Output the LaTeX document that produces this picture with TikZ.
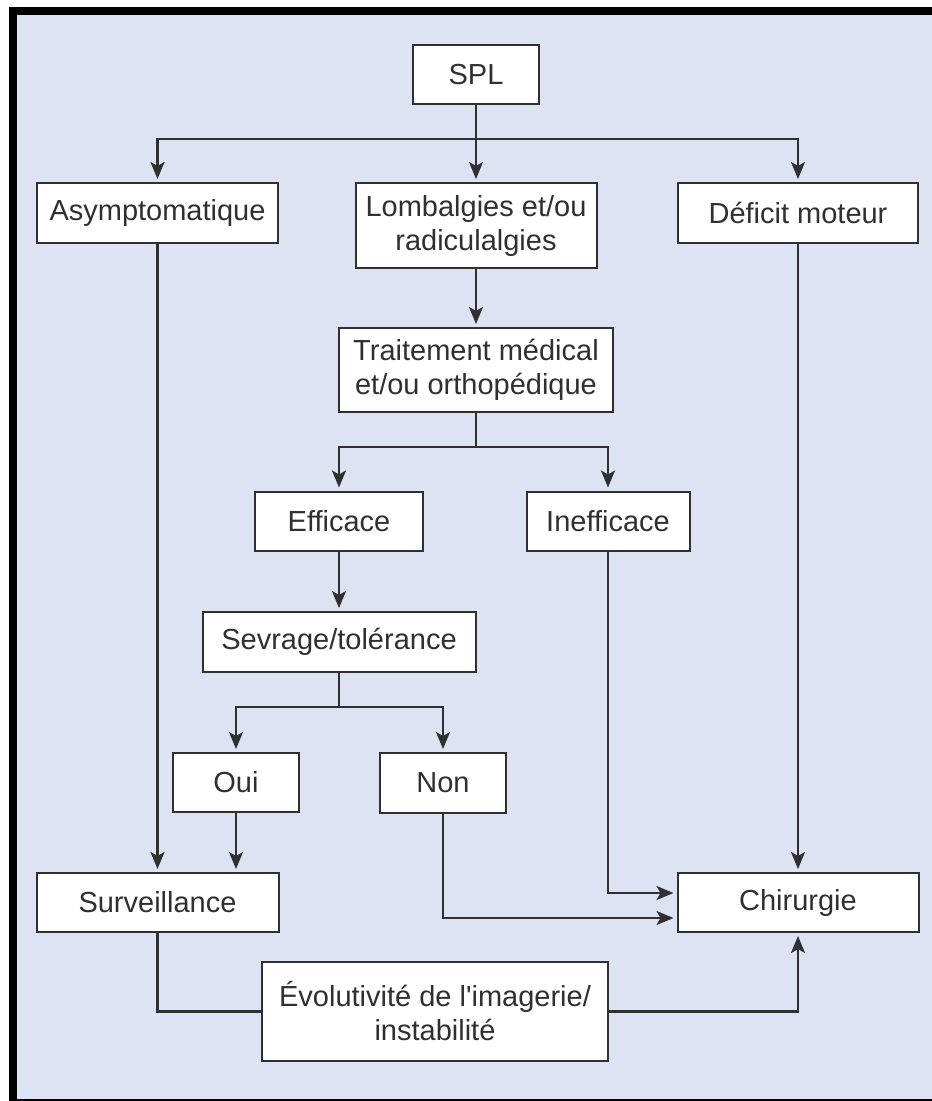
\documentclass[tikz,border=0pt]{standalone}
\usepackage{fontspec}
% plain family: keeps the straight apostrophe
\newfontfamily\boxfont{Liberation Sans}
\usetikzlibrary{arrows.meta}
\definecolor{bgblue}{RGB}{221,227,242}
\definecolor{ink}{RGB}{48,48,48}
\begin{document}
\begin{tikzpicture}[x=1pt,y=-1pt,
  box/.style={draw=ink, line width=2pt, fill=white, text=ink, align=center,
              inner sep=0pt, font=\boxfont\fontsize{29}{34}\selectfont},
  link/.style={draw=ink, line width=2.2pt},
  arr/.style={link, shorten >=3pt, -{Stealth[length=17pt,width=14pt,inset=4pt]}}]
\useasboundingbox (0,0) rectangle (932,1101);
% frame and background
\fill[white] (0,0) rectangle (932,1101);
\fill[black] (9,7) rectangle (932,1101);
\fill[bgblue] (17,15) rectangle (932,1099);

% boxes
\node[box, minimum width=126pt, minimum height=59pt] (spl)   at (476,74.5)  {SPL};
\node[box, minimum width=241pt, minimum height=60pt] (asym)  at (157.5,213) {Asymptomatique};
\node[box, minimum width=241pt, minimum height=85pt] (lomb)  at (476,225.5) {Lombalgies et/ou\\radiculalgies};
\node[box, minimum width=240pt, minimum height=60pt] (def)   at (798,213)   {Déficit moteur};
\node[box, minimum width=274pt, minimum height=84pt] (trait) at (476,370)   {Traitement médical\\et/ou orthopédique};
\node[box, minimum width=168pt, minimum height=59pt] (eff)   at (339,521)   {Efficace};
\node[box, minimum width=163pt, minimum height=59pt] (ineff) at (608,521)   {Inefficace};
\node[box, minimum width=273pt, minimum height=60pt] (sevr)  at (339,642)   {Sevrage/tolérance};
\node[box, minimum width=126pt, minimum height=59pt] (oui)   at (236,782.5) {Oui};
\node[box, minimum width=126pt, minimum height=60pt] (non)   at (443,783)   {Non};
\node[box, minimum width=242pt, minimum height=59pt] (surv)  at (157.5,902.5) {Surveillance};
\node[box, minimum width=241pt, minimum height=59pt] (chir)  at (798,902.5) {Chirurgie};
\node[box, minimum width=346pt, minimum height=99pt] (evol)  at (435,1011.5) {Évolutivité de l'imagerie/\\instabilité};

% junction points
\coordinate (bus1) at (476,139);
\coordinate (bus2) at (476,447);
\coordinate (bus3) at (339,707);

% connectors
\draw[link] (spl) -- (bus1);
\draw[arr] (bus1) -| (asym);
\draw[arr] (bus1) -- (lomb);
\draw[arr] (bus1) -| (def);
\draw[arr] (lomb) -- (trait);
\draw[link] (trait) -- (bus2);
\draw[arr] (bus2) -| (eff);
\draw[arr] (bus2) -| (ineff);
\draw[arr] (eff) -- (sevr);
\draw[link] (sevr) -- (bus3);
\draw[arr] (bus3) -| (oui);
\draw[arr] (bus3) -| (non);
\draw[arr] (asym) -- (surv);
\draw[arr] (oui) -- (oui |- surv.north);
\draw[arr] (def) -- (chir);
\draw[arr] (ineff) |- ([yshift=9.5pt]chir.west);
\draw[arr] (non) |- ([yshift=-15.5pt]chir.west);
\draw[link] (surv) |- (evol);
\draw[arr] (evol) -| (chir);
\end{tikzpicture}
\end{document}
